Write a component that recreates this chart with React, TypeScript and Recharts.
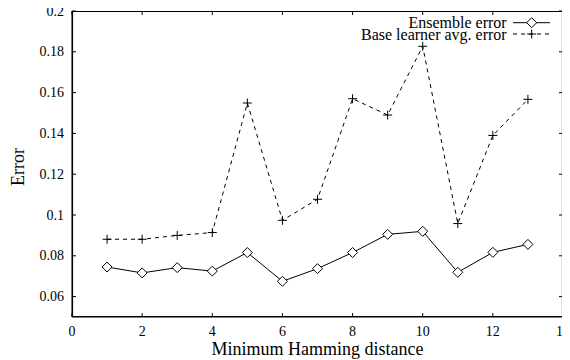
import React from 'react';
import { LineChart, Line, XAxis, YAxis } from 'recharts';

const hamming = [1, 2, 3, 4, 5, 6, 7, 8, 9, 10, 11, 12, 13];
const ensembleError = [0.0745, 0.0716, 0.0742, 0.0725, 0.0816, 0.0675, 0.0737, 0.0816, 0.0905, 0.092, 0.0719, 0.0817, 0.0856];
const baseError = [0.0881, 0.0881, 0.09, 0.0914, 0.1549, 0.0974, 0.1077, 0.157, 0.149, 0.1827, 0.0958, 0.139, 0.1567];
const xTicks = [0, 2, 4, 6, 8, 10, 12, 14];
const yTicks = [0.06, 0.08, 0.1, 0.12, 0.14, 0.16, 0.18, 0.2];
const seriesNames = ['Ensemble error', 'Base learner avg. error'];

const data = hamming.map((h, i) => ({ x: h, ens: ensembleError[i], base: baseError[i] }));

const W = 570;
const H = 360;
const M = { top: 11, right: 7, bottom: 0, left: 0 };
const XAH = 43;
const YAW = 72;
const PT = M.top;
const PB = H - M.bottom - XAH;
const PL = M.left + YAW;
const PR = W - M.right;
const FONT = 'Liberation Serif';

const XTick = (props: any) => {
  const { x, payload } = props;
  return (
    <g>
      <line x1={x} x2={x} y1={PB} y2={PB - 4} stroke="#000" />
      <line x1={x} x2={x} y1={PT} y2={PT + 4} stroke="#000" />
      <text x={x} y={PB + 14} textAnchor="middle" dominantBaseline="central" fontFamily={FONT} fontSize={14} fill="#000">
        {String(payload.value)}
      </text>
    </g>
  );
};

const YTick = (props: any) => {
  const { y, payload } = props;
  return (
    <g>
      <line x1={PL} x2={PL + 4} y1={y} y2={y} stroke="#000" />
      <line x1={PR} x2={PR - 4} y1={y} y2={y} stroke="#000" />
      <text x={PL - 8} y={y} textAnchor="end" dominantBaseline="central" fontFamily={FONT} fontSize={14} fill="#000">
        {String(Number(payload.value.toFixed(2)))}
      </text>
    </g>
  );
};

const Diamond = (props: any) => {
  const { cx, cy, index } = props;
  if (cx == null || cy == null) return <g key={`d${index}`} />;
  const r = 5;
  return (
    <path key={`d${index}`} d={`M${cx},${cy - r}L${cx + r},${cy}L${cx},${cy + r}L${cx - r},${cy}Z`} fill="#fff" stroke="#000" strokeWidth={1} />
  );
};

const Plus = (props: any) => {
  const { cx, cy, index } = props;
  if (cx == null || cy == null) return <g key={`p${index}`} />;
  const r = 4.5;
  return (
    <path key={`p${index}`} d={`M${cx - r},${cy}H${cx + r}M${cx},${cy - r}V${cy + r}`} fill="none" stroke="#000" strokeWidth={1} />
  );
};

const Overlay = () => {
  const tx = 506.7;
  const y1 = 22.7;
  const y2 = 34;
  const lx1 = 513;
  const lx2 = 550;
  const mx = 531.7;
  return (
    <svg width={W} height={H} style={{ position: 'absolute', left: 0, top: 0, pointerEvents: 'none' }}>
      <path d={`M${PL + 0.5},${PT + 0.5}H${PR - 0.5}V${PB - 0.5}H${PL + 0.5}Z`} fill="none" stroke="#000000" strokeWidth={1.2} />
      <text x={tx} y={y1} textAnchor="end" dominantBaseline="central" fontFamily={FONT} fontSize={16} fill="#000">{seriesNames[0]}</text>
      <line x1={lx1} x2={lx2} y1={y1} y2={y1} stroke="#000" />
      <Diamond cx={mx} cy={y1} index={0} />
      <text x={tx} y={y2} textAnchor="end" dominantBaseline="central" fontFamily={FONT} fontSize={16} fill="#000">{seriesNames[1]}</text>
      <line x1={lx1} x2={lx2} y1={y2} y2={y2} stroke="#000" strokeDasharray="4 4" />
      <Plus cx={mx} cy={y2} index={0} />
      <text x={317.5} y={349} textAnchor="middle" dominantBaseline="central" fontFamily={FONT} fontSize={18} fill="#000">
        Minimum Hamming distance
      </text>
      <text x={18} y={167} textAnchor="middle" dominantBaseline="central" fontFamily={FONT} fontSize={18} fill="#000" transform="rotate(-90 18 167)">
        Error
      </text>
    </svg>
  );
};

export default function App() {
  return (
    <div style={{ position: 'relative', width: W, height: H, margin: '-8px 0 0 -8px' }}>
      <LineChart width={W} height={H} data={data} margin={M}>
        <XAxis
          type="number"
          dataKey="x"
          domain={[0, 14]}
          ticks={xTicks}
          height={XAH}
          stroke="#000"
          tickLine={false}
          tick={<XTick />}
          interval={0}
        />
        <YAxis
          type="number"
          domain={[0.05, 0.2]}
          ticks={yTicks}
          width={YAW}
          stroke="#000"
          tickLine={false}
          tick={<YTick />}
          interval={0}
        />
        <Line dataKey="ens" stroke="#000" strokeWidth={1} dot={Diamond} activeDot={false} isAnimationActive={false} legendType="none" />
        <Line dataKey="base" stroke="#000" strokeWidth={1} strokeDasharray="4 4" dot={Plus} activeDot={false} isAnimationActive={false} legendType="none" />
      </LineChart>
      <Overlay />
    </div>
  );
}
